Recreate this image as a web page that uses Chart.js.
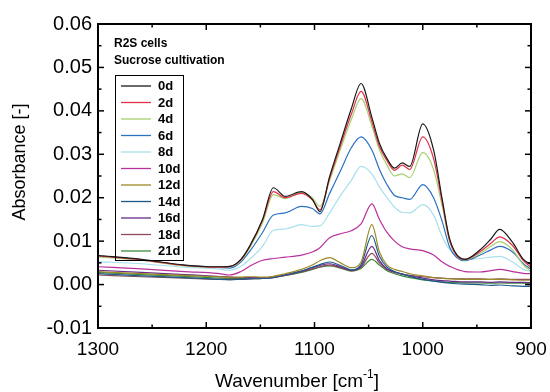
<!DOCTYPE html>
<html>
<head>
<meta charset="utf-8">
<script src="https://cdn.jsdelivr.net/npm/chart.js@4.4.1/dist/chart.umd.min.js"></script>
<style>
  body { margin: 0; background: #fff; }
</style>
</head>
<body>
<canvas id="chart" width="550" height="392"></canvas>
<script>
// wavenumbers (cm-1)
var wavenumbers = [1300, 1260, 1220, 1190, 1178, 1168, 1160, 1148, 1138, 1127, 1112, 1102, 1095, 1086, 1076, 1066, 1057, 1047, 1040, 1033, 1026, 1019, 1012, 1000, 990, 982, 975, 961, 947, 937, 929, 917, 907, 900];

var abs0d  = [.0067,.0058,.0045,.0041,.0042,.0058,.0088,.0150,.0223,.0203,.0214,.0196,.0168,.0249,.0327,.0405,.0463,.0385,.0325,.0290,.0268,.0280,.0272,.0370,.0310,.0196,.0104,.0058,.0080,.0105,.0127,.0097,.0058,.0046];
var abs2d  = [.0066,.0057,.0044,.0040,.0042,.0057,.0087,.0148,.0214,.0200,.0210,.0195,.0172,.0245,.0320,.0392,.0445,.0375,.0318,.0285,.0263,.0275,.0265,.0340,.0290,.0190,.0100,.0058,.0076,.0095,.0110,.0090,.0055,.0040];
var abs4d  = [.0064,.0056,.0043,.0040,.0041,.0055,.0084,.0142,.0207,.0198,.0212,.0200,.0180,.0240,.0312,.0380,.0428,.0365,.0310,.0275,.0250,.0255,.0246,.0304,.0265,.0180,.0098,.0057,.0072,.0088,.0099,.0080,.0045,.0032];
var abs6d  = [.0066,.0057,.0044,.0040,.0038,.0052,.0076,.0120,.0160,.0165,.0180,.0175,.0163,.0210,.0262,.0315,.0340,.0310,.0265,.0230,.0205,.0200,.0196,.0230,.0200,.0145,.0085,.0055,.0068,.0080,.0088,.0075,.0048,.0035];
var abs8d  = [.0053,.0048,.0040,.0036,.0033,.0042,.0058,.0088,.0125,.0128,.0138,.0134,.0135,.0165,.0205,.0240,.0272,.0255,.0225,.0200,.0178,.0166,.0165,.0184,.0160,.0110,.0080,.0058,.0060,.0063,.0065,.0052,.0035,.0030];
var abs10d = [.0041,.0036,.0030,.0026,.0022,.0030,.0042,.0056,.0060,.0063,.0068,.0075,.0085,.0108,.0117,.0124,.0140,.0186,.0150,.0120,.0100,.0087,.0082,.0078,.0068,.0052,.0042,.0030,.0029,.0032,.0035,.0030,.0026,.0025];
var abs12d = [.0030,.0025,.0021,.0018,.0017,.0017,.0018,.0017,.0019,.0025,.0035,.0045,.0055,.0062,.0050,.0039,.0052,.0138,.0075,.0045,.0035,.0030,.0025,.0020,.0016,.0014,.0013,.0012,.0012,.0012,.0012,.0011,.0010,.0010];
var abs14d = [.0025,.0020,.0016,.0012,.0011,.0012,.0013,.0014,.0016,.0022,.0031,.0040,.0046,.0052,.0044,.0034,.0046,.0113,.0065,.0040,.0030,.0024,.0019,.0012,.0008,.0005,.0003,.0001,.0000,-.0002,-.0001,-.0003,-.0004,-.0004];
var abs16d = [.0033,.0028,.0023,.0019,.0017,.0016,.0016,.0016,.0018,.0023,.0031,.0039,.0044,.0048,.0041,.0033,.0042,.0088,.0055,.0036,.0029,.0024,.0020,.0015,.0011,.0009,.0008,.0006,.0006,.0005,.0006,.0005,.0005,.0004];
var abs18d = [.0022,.0018,.0015,.0012,.0012,.0012,.0013,.0014,.0016,.0021,.0029,.0036,.0041,.0045,.0039,.0032,.0040,.0072,.0050,.0035,.0028,.0024,.0021,.0018,.0016,.0015,.0014,.0013,.0013,.0012,.0013,.0012,.0012,.0012];
var abs21d = [.0028,.0023,.0019,.0015,.0014,.0014,.0014,.0015,.0017,.0021,.0028,.0035,.0040,.0043,.0038,.0031,.0037,.0058,.0045,.0032,.0025,.0020,.0016,.0011,.0008,.0006,.0005,.0004,.0004,.0003,.0004,.0003,.0003,.0003];

var seriesLabels = ['0d', '2d', '4d', '6d', '8d', '10d', '12d', '14d', '16d', '18d', '21d'];
var seriesValues = [abs0d, abs2d, abs4d, abs6d, abs8d, abs10d, abs12d, abs14d, abs16d, abs18d, abs21d];
var seriesColors = ['#1a1a1a', '#e0304a', '#a8d070', '#2a72c0', '#a8e0ec', '#b8309c', '#9c8a28', '#1e5a8a', '#6a2a8a', '#8a4a5a', '#3a8a3a'];

var xTicks = [1300, 1200, 1100, 1000, 900];
var yTicks = [-0.01, 0, 0.01, 0.02, 0.03, 0.04, 0.05, 0.06];

var datasets = seriesValues.map(function (vals, i) {
    return {
        label: seriesLabels[i],
        data: vals.map(function (v, j) { return { x: wavenumbers[j], y: v }; }),
        borderColor: seriesColors[i],
        borderWidth: 1.2,
        pointRadius: 0,
        cubicInterpolationMode: 'monotone',
        fill: false
    };
});

// frame, inward ticks, legend box and axis titles
var decorations = {
    id: 'decorations',
    afterDraw: function (chart) {
        var ctx = chart.ctx, a = chart.chartArea;
        var xs = chart.scales.x, ys = chart.scales.y;
        ctx.save();
        ctx.strokeStyle = '#000';
        ctx.lineWidth = 1.5;
        function seg(x1, y1, x2, y2) {
            ctx.beginPath(); ctx.moveTo(x1, y1); ctx.lineTo(x2, y2); ctx.stroke();
        }
        for (var w = 900; w <= 1300; w += 50) {
            var px = xs.getPixelForValue(w);
            var len = (w % 100 === 0) ? 6 : 3.5;
            seg(px, a.bottom, px, a.bottom - len);
            seg(px, a.top, px, a.top + len);
        }
        for (var k = -10; k <= 60; k += 5) {
            var py = ys.getPixelForValue(k / 1000);
            var l2 = (k % 10 === 0) ? 6 : 3.5;
            seg(a.left, py, a.left + l2, py);
            seg(a.right, py, a.right - l2, py);
        }
        ctx.lineWidth = 2;
        ctx.strokeRect(a.left, a.top, a.right - a.left, a.bottom - a.top);

        // sample description
        ctx.fillStyle = '#000';
        ctx.font = 'bold 12px "Liberation Sans", Arial, sans-serif';
        ctx.textBaseline = 'middle';
        ctx.textAlign = 'left';
        ctx.fillText('R2S cells', a.left + 16, 44);
        ctx.fillText('Sucrose cultivation', a.left + 16, 61);

        // legend
        var bx = a.left + 17, by = 75, bw = 68, bh = 185;
        ctx.lineWidth = 1;
        ctx.strokeRect(bx + 0.5, by + 0.5, bw, bh);
        ctx.font = 'bold 13px "Liberation Sans", Arial, sans-serif';
        for (var i = 0; i < seriesLabels.length; i++) {
            var ly = by + 11 + i * 16.5;
            ctx.strokeStyle = seriesColors[i];
            ctx.lineWidth = 1.3;
            seg(bx + 6, ly, bx + 36, ly);
            ctx.fillStyle = '#000';
            ctx.fillText(seriesLabels[i], bx + 43, ly + 0.5);
        }

        // axis titles
        ctx.fillStyle = '#000';
        ctx.font = '19px "Liberation Sans", Arial, sans-serif';
        var main = 'Wavenumber [cm';
        var mw = ctx.measureText(main).width;
        ctx.font = '12px "Liberation Sans", Arial, sans-serif';
        var sw = ctx.measureText('-1').width;
        ctx.font = '19px "Liberation Sans", Arial, sans-serif';
        var cw = ctx.measureText(']').width;
        var tx = 297 - (mw + sw + cw) / 2;
        ctx.textBaseline = 'alphabetic';
        ctx.fillText(main, tx, 387);
        ctx.font = '12px "Liberation Sans", Arial, sans-serif';
        ctx.fillText('-1', tx + mw, 378);
        ctx.font = '19px "Liberation Sans", Arial, sans-serif';
        ctx.fillText(']', tx + mw + sw, 387);

        ctx.translate(20, 162);
        ctx.rotate(-Math.PI / 2);
        ctx.textAlign = 'center';
        ctx.textBaseline = 'middle';
        ctx.font = '18px "Liberation Sans", Arial, sans-serif';
        ctx.fillText('Absorbance [-]', 0, 0);
        ctx.restore();
    }
};

new Chart(document.getElementById('chart').getContext('2d'), {
    type: 'line',
    data: { datasets: datasets },
    options: {
        responsive: false,
        animation: false,
        devicePixelRatio: 1,
        layout: { padding: { left: 0, right: 19, top: 24, bottom: 0 } },
        plugins: { legend: { display: false }, tooltip: { enabled: false } },
        scales: {
            x: {
                type: 'linear',
                reverse: true,
                min: 900,
                max: 1300,
                afterBuildTicks: function (scale) {
                    scale.ticks = xTicks.map(function (v) { return { value: v }; });
                },
                afterFit: function (scale) {
                    scale.height = 64;
                    scale.paddingLeft = 0;
                    scale.paddingRight = 0;
                },
                grid: { display: false, drawTicks: false },
                border: { display: false },
                ticks: {
                    color: '#000',
                    padding: 10,
                    maxRotation: 0,
                    font: { family: '"Liberation Sans", Arial, sans-serif', size: 19 },
                    callback: function (v) { return String(v); }
                }
            },
            y: {
                min: -0.01,
                max: 0.06,
                afterBuildTicks: function (scale) {
                    scale.ticks = yTicks.map(function (v) { return { value: v }; });
                },
                afterFit: function (scale) {
                    scale.width = 98;
                    scale.paddingTop = 0;
                    scale.paddingBottom = 0;
                },
                grid: { display: false, drawTicks: false },
                border: { display: false },
                ticks: {
                    color: '#000',
                    padding: 6,
                    font: { family: '"Liberation Sans", Arial, sans-serif', size: 20 },
                    callback: function (v) { return Number(v).toFixed(2); }
                }
            }
        }
    },
    plugins: [decorations]
});
</script>
</body>
</html>
